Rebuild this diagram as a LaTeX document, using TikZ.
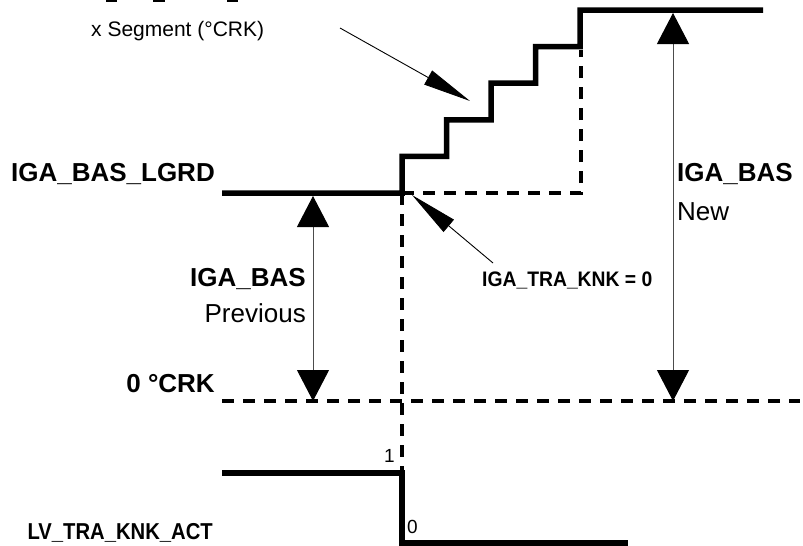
\documentclass[tikz,border=0pt]{standalone}
\usepackage{fontspec}
\setmainfont{Liberation Sans}
\usetikzlibrary{arrows.meta}
\begin{document}
\begin{tikzpicture}[x=1pt, y=-1pt, inner sep=0pt,
    trace/.style={line width=5.5pt},
    grid/.style={line width=3.4pt, dash pattern=on 12pt off 9pt},
    dim/.style={line width=1pt, draw=black!70,
      {Triangle[length=31pt,width=32pt,color=black]}-{Triangle[length=31pt,width=32pt,color=black]}},
    lead/.style={line width=0.9pt, -{Triangle[length=48pt,width=16pt]}},
    big/.style={font=\fontsize{26}{30}\selectfont\bfseries},
    txt/.style={font=\fontsize{26}{30}\selectfont},
    small/.style={font=\fontsize{21}{24}\selectfont}]
  \useasboundingbox (0,0) rectangle (803,546);
  % labels
  \node[big, anchor=base east] at (215,181) (lgrd) {IGA\_BAS\_LGRD};
  \node[big, anchor=base east] at (215,392) (zero) {0 °CRK};
  \node[font=\fontsize{23}{26}\selectfont\bfseries, anchor=base east] at (213,539) (act) {\scalebox{0.88}[1]{LV\_TRA\_KNK\_ACT}};
  \node[small, anchor=base west] at (91,36) (seg) {x Segment (°CRK)};
  \node[font=\fontsize{21}{24}\selectfont\bfseries, anchor=base west] at (482,286) (knklbl) {\scalebox{0.92}[1]{IGA\_TRA\_KNK = 0}};
  \node[big, anchor=base east] at (306,286) (basprev) {IGA\_BAS};
  \node[txt, anchor=base east] at (306,322) (prev) {Previous};
  \node[big, anchor=base west] at (677,181) (basnew) {IGA\_BAS};
  \node[txt, anchor=base west] at (677,220) (new) {New};
  \node[font=\fontsize{19}{22}\selectfont, anchor=base east] at (395,462) (one) {1};
  \node[font=\fontsize{19}{22}\selectfont, anchor=base west] at (407,533) (nul) {0};
  % cut text at the top edge
  \foreach \a/\b in {106/117, 153/165, 227/238}
    \draw[line width=1.8pt] (\a,1) -- (\b,1);
  % points
  \coordinate (start) at (222,193);
  \coordinate (knk) at (402,193);
  \coordinate (corner) at (581,193);
  \coordinate (base0) at (222,401);
  \coordinate (base1) at (800,401);
  \coordinate (segtail) at (340,28);
  \coordinate (segtip) at (470,101);
  \coordinate (knktail) at (493,263);
  \coordinate (knktip) at (412,195);
  % dashed guides
  \draw[grid] (knk) -- (402,470);
  \draw[grid] (knk) -- (corner) -- (581,50);
  \draw[grid] (base0) -- (base1);
  % IGA_BAS signal
  \draw[trace] (start) -- (knk)
    foreach \i in {1,...,4} { -- ++(0,-36.6) -- ++(44.5,0) }
    -- ++(0,-36.6) -- (763,10);
  % LV_TRA_KNK_ACT signal
  \draw[trace] (222,473) -- (402,473) -- (402,543) -- (628,543);
  % dimensions
  \draw[dim] (313,196) -- (313,401);
  \draw[dim] (673,13) -- (673,401);
  % leaders
  \draw[lead] (segtail) -- (segtip);
  \draw[lead] (knktail) -- (knktip);
\end{tikzpicture}
\end{document}
